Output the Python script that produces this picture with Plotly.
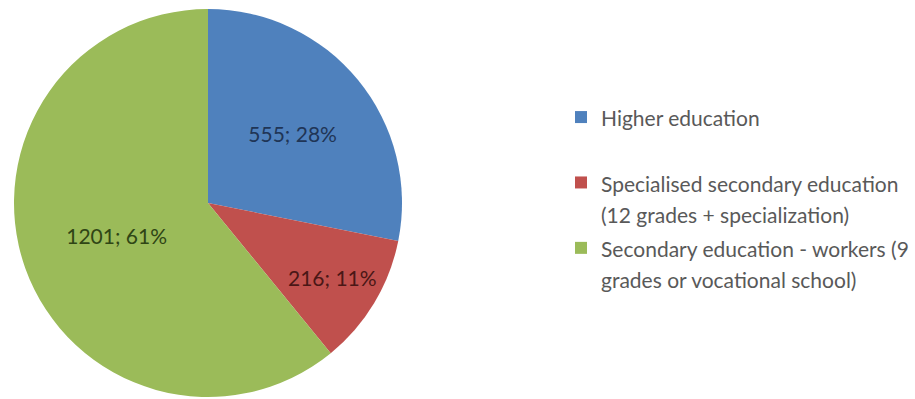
import plotly.graph_objects as go

# Education level breakdown
categories = [
    "Higher education",
    "Specialised secondary education<br>(12 grades + specialization)",
    "Secondary education - workers (9<br>grades or vocational school)",
]
counts = [555, 216, 1201]
slice_colors = ["#4f81bd", "#c0504d", "#9bbb59"]
label_colors = ["#1f3556", "#4a1716", "#2f4515"]

# Legend entries: text drawn a little smaller than the legend font so the
# line pitch stays roomy; the first entry gets a spacer line below it.
legend_text = [
    "<span style='font-size:21px'>" + c.replace("<br>", "</span><br><span style='font-size:21px'>") + "</span>"
    for c in categories
]
legend_text[0] += "<br> "

fig = go.Figure(
    go.Pie(
        labels=legend_text,
        values=counts,
        sort=False,
        direction="clockwise",
        rotation=0,
        marker=dict(colors=slice_colors, line=dict(width=0)),
        texttemplate="%{value}; %{percent:.0%}",
        textposition="inside",
        insidetextorientation="horizontal",
        insidetextfont=dict(family="Lato", size=21, color=label_colors),
        hovertemplate="%{value}; %{percent:.0%}<extra></extra>",
        domain=dict(x=[14 / 915, 402 / 915], y=[2 / 399, 390 / 399]),
    )
)

fig.update_layout(
    width=915,
    height=399,
    margin=dict(l=0, r=0, t=0, b=0),
    paper_bgcolor="white",
    plot_bgcolor="white",
    showlegend=True,
    legend=dict(
        x=561 / 915,
        y=0.762,
        xanchor="left",
        yanchor="top",
        font=dict(family="Lato", size=24, color="#595959"),
        valign="top",
        bgcolor="rgba(0,0,0,0)",
    ),
)

fig.write_html("out.html")
